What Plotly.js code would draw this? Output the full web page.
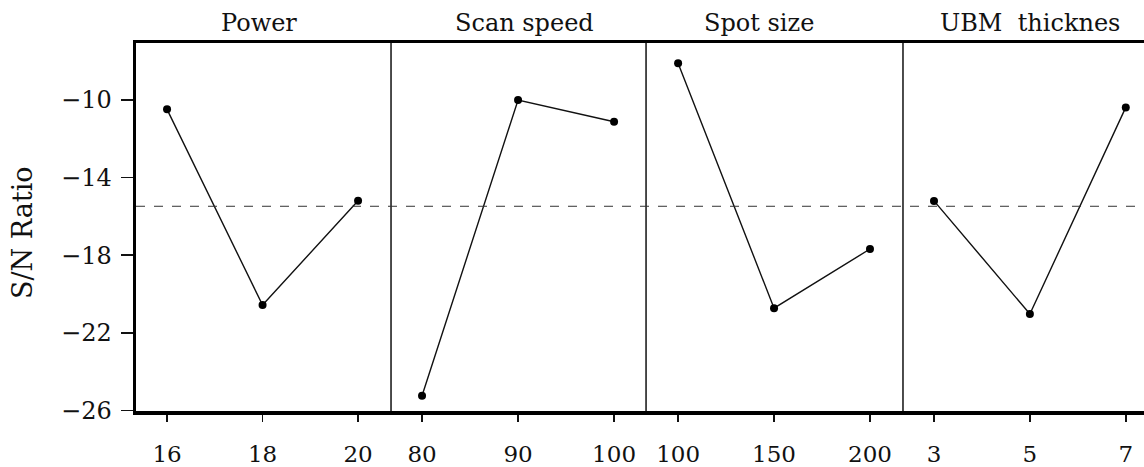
<!DOCTYPE html>
<html>
<head>
<meta charset="utf-8">
<script src="https://cdn.plot.ly/plotly-3.0.1.min.js"></script>
<style>html,body{margin:0;padding:0;background:#fff;}#chart{width:1144px;height:467px;}</style>
</head>
<body>
<div id="chart"></div>
<script>
// Factor levels (x) and S/N ratio means (y)
const panelTitles = ["Power", "Scan speed", "Spot size", "UBM\u00a0\u00a0thicknes"];
const powerLevels = [16, 18, 20];
const powerSN = [-10.48, -20.57, -15.19];
const speedLevels = [80, 90, 100];
const speedSN = [-25.24, -10.0, -11.12];
const spotLevels = [100, 150, 200];
const spotSN = [-8.1, -20.73, -17.68];
const ubmLevels = [3, 5, 7];
const ubmSN = [-15.2, -21.03, -10.38];
const yTicks = [-26, -22, -18, -14, -10];

const levels = [powerLevels, speedLevels, spotLevels, ubmLevels];
const sns = [powerSN, speedSN, spotSN, ubmSN];
const allSN = [].concat(...sns);
const grandMean = allSN.reduce((a, b) => a + b, 0) / allSN.length;

const font = "DejaVu Serif, Liberation Serif, serif";
const domains = [[0, 0.253], [0.253, 0.506], [0.506, 0.7609], [0.7609, 1]];
const ranges = [[15.35, 20.69], [76.77, 103.33], [83.3, 217.2], [2.353, 7.38]];
const titleX = [0.1220, 0.3859, 0.6185, 0.8869];

const traces = levels.map((lv, i) => ({
  type: "scatter", mode: "lines+markers",
  x: lv, y: sns[i],
  xaxis: i === 0 ? "x" : "x" + (i + 1), yaxis: "y",
  line: {color: "#111", width: 1.4},
  marker: {color: "#000", size: 8},
  showlegend: false, hoverinfo: "x+y"
}));

const layout = {
  width: 1144, height: 467,
  margin: {l: 136, r: 0, t: 43, b: 56},
  paper_bgcolor: "#fff", plot_bgcolor: "#fff",
  font: {family: font, color: "#111", size: 23},
  showlegend: false,
  yaxis: {
    range: [-26.03, -7.06], tickvals: yTicks,
    ticks: "outside", ticklen: 12, tickwidth: 1.5, tickcolor: "#111",
    showgrid: false, zeroline: false,
    showline: true, linewidth: 3.5, linecolor: "#000",
    tickfont: {family: font, size: 24, color: "#111"},
    ticklabelstandoff: 4
  },
  shapes: [],
  annotations: []
};

levels.forEach((lv, i) => {
  const key = i === 0 ? "xaxis" : "xaxis" + (i + 1);
  layout[key] = {
    domain: domains[i], range: ranges[i], anchor: "y",
    tickvals: lv, ticktext: lv.map(String),
    ticks: "outside", ticklen: 7, tickwidth: 1.5, tickcolor: "#111",
    showgrid: false, zeroline: false,
    showline: true, mirror: true, linewidth: 3.5, linecolor: "#000",
    tickfont: {family: font, size: 23, color: "#111"},
    ticklabelstandoff: 13
  };
  layout.annotations.push({
    text: panelTitles[i], xref: "paper", yref: "paper",
    x: titleX[i], y: 1.054, xanchor: "center", yanchor: "middle",
    showarrow: false, font: {family: font, size: 24, color: "#111"}
  });
});

// panel dividers
[domains[1][0], domains[2][0], domains[3][0]].forEach(d => {
  layout.shapes.push({type: "line", xref: "paper", yref: "paper",
    x0: d, x1: d, y0: 0, y1: 1, line: {color: "#111", width: 1.5}});
});
// grand mean dashed line
layout.shapes.push({type: "line", xref: "paper", yref: "y",
  x0: 0, x1: 1, y0: grandMean, y1: grandMean,
  line: {color: "#333", width: 1, dash: "dash"}});

// y-axis title
layout.annotations.push({
  text: "S/N Ratio", xref: "paper", yref: "paper",
  x: -0.112, y: 0.484, xanchor: "center", yanchor: "middle", textangle: -90,
  showarrow: false, font: {family: font, size: 27, color: "#111"}
});

Plotly.newPlot("chart", traces, layout, {staticPlot: true, displayModeBar: false});
</script>
</body>
</html>
